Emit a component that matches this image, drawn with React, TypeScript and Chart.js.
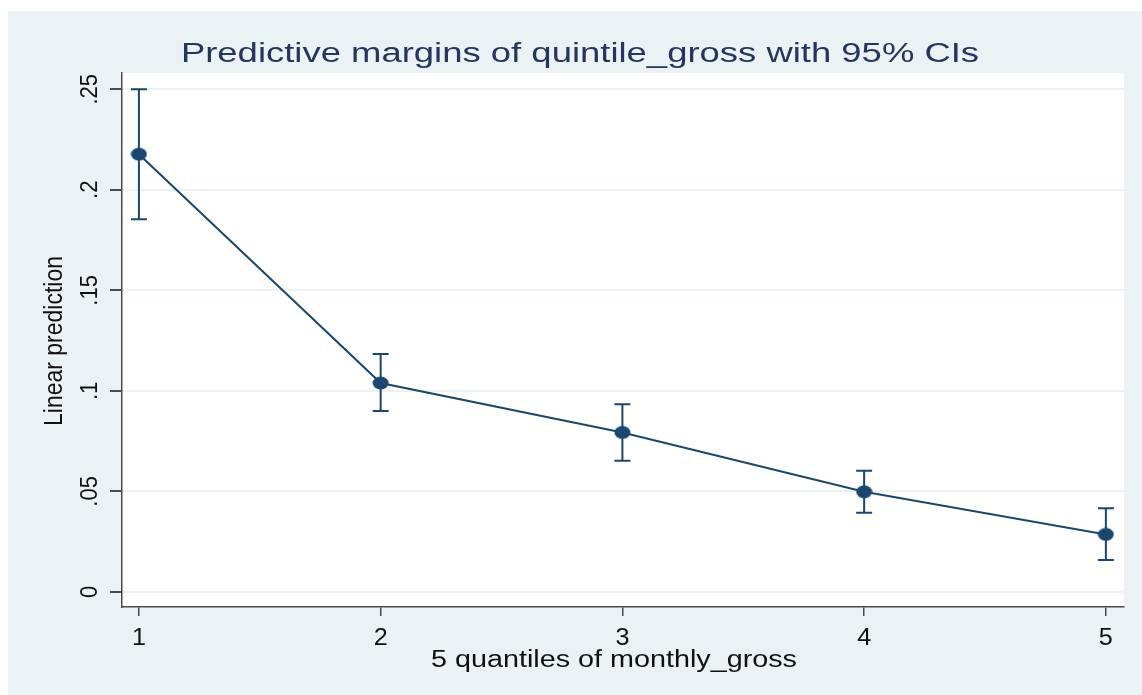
import React, { useEffect, useRef } from "react";
import { Chart, registerables } from "chart.js";

Chart.register(...registerables);

const titleText = "Predictive margins of quintile_gross with 95% CIs";
const xAxisTitle = "5 quantiles of monthly_gross";
const yAxisTitle = "Linear prediction";
const quintiles = [1, 2, 3, 4, 5];
const margins = [0.2177, 0.1039, 0.0793, 0.0498, 0.0286];
const ciLower = [0.1854, 0.09, 0.0653, 0.0394, 0.0159];
const ciUpper = [0.25, 0.1183, 0.0934, 0.0603, 0.0416];
const xTickValues = [1, 2, 3, 4, 5];
const xTickLabels = ["1", "2", "3", "4", "5"];
const yTickValues = [0, 0.05, 0.1, 0.15, 0.2, 0.25];
const yTickLabels = ["0", ".05", ".1", ".15", ".2", ".25"];

const NAVY = "#1a476f";
const BG = "#eaf2f3";
const AXIS = "#4a4a4a";
const FONT = "'Liberation Sans', Arial, sans-serif";

export default function App() {
  const ref = useRef<HTMLCanvasElement | null>(null);

  useEffect(() => {
    const canvas = ref.current;
    if (!canvas) return;

    const marker = document.createElement("canvas");
    marker.width = 17;
    marker.height = 14;
    const mctx = marker.getContext("2d")!;
    mctx.fillStyle = NAVY;
    mctx.beginPath();
    mctx.ellipse(8.5, 7, 8, 6.5, 0, 0, Math.PI * 2);
    mctx.fill();

    const bgPlugin = {
      id: "bgPlugin",
      beforeDraw(chart: any) {
        const { ctx, chartArea, width, height } = chart;
        ctx.save();
        ctx.fillStyle = BG;
        ctx.fillRect(0, 0, width, height);
        ctx.fillStyle = "#ffffff";
        ctx.fillRect(
          chartArea.left,
          chartArea.top,
          chartArea.right - chartArea.left,
          chartArea.bottom - chartArea.top
        );
        ctx.restore();
      },
    };

    const errorBarPlugin = {
      id: "errorBars",
      beforeDatasetsDraw(chart: any) {
        const { ctx, scales } = chart;
        const xs = scales.x;
        const ys = scales.y;
        ctx.save();
        ctx.strokeStyle = NAVY;
        ctx.lineWidth = 2;
        quintiles.forEach((q, i) => {
          const px = xs.getPixelForValue(q);
          const top = ys.getPixelForValue(ciUpper[i]);
          const bot = ys.getPixelForValue(ciLower[i]);
          ctx.beginPath();
          ctx.moveTo(px, top);
          ctx.lineTo(px, bot);
          ctx.moveTo(px - 8, top);
          ctx.lineTo(px + 8, top);
          ctx.moveTo(px - 8, bot);
          ctx.lineTo(px + 8, bot);
          ctx.stroke();
        });
        ctx.restore();
      },
    };

    const textPlugin = {
      id: "texts",
      afterDraw(chart: any) {
        const { ctx, scales } = chart;
        const xs = scales.x;
        const ys = scales.y;
        ctx.save();
        // title
        ctx.fillStyle = "#22365f";
        ctx.font = `27px ${FONT}`;
        ctx.textAlign = "center";
        ctx.textBaseline = "alphabetic";
        ctx.save();
        ctx.translate(572, 51);
        ctx.scale(1.35, 1);
        ctx.fillText(titleText, 0, 0);
        ctx.restore();

        ctx.fillStyle = "#111111";
        // x tick labels
        ctx.font = `24px ${FONT}`;
        xTickValues.forEach((v, i) => {
          const px = xs.getPixelForValue(v);
          ctx.save();
          ctx.translate(px, 634);
          ctx.scale(1.05, 1);
          ctx.fillText(xTickLabels[i], 0, 0);
          ctx.restore();
        });
        // x title
        ctx.font = `23px ${FONT}`;
        ctx.save();
        ctx.translate(606, 656);
        ctx.scale(1.25, 1);
        ctx.fillText(xAxisTitle, 0, 0);
        ctx.restore();
        // y tick labels
        ctx.font = `22px ${FONT}`;
        yTickValues.forEach((v, i) => {
          const py = ys.getPixelForValue(v);
          ctx.save();
          ctx.translate(89, py);
          ctx.scale(1.1, 1);
          ctx.rotate(-Math.PI / 2);
          ctx.fillText(yTickLabels[i], 0, 0);
          ctx.restore();
        });
        // y title
        ctx.font = `23px ${FONT}`;
        ctx.save();
        ctx.translate(54, 330);
        ctx.scale(1.12, 1);
        ctx.rotate(-Math.PI / 2);
        ctx.fillText(yAxisTitle, 0, 0);
        ctx.restore();
        ctx.restore();
      },
    };

    const chart = new Chart(canvas, {
      type: "line",
      data: {
        datasets: [
          {
            data: quintiles.map((q, i) => ({ x: q, y: margins[i] })),
            borderColor: NAVY,
            backgroundColor: NAVY,
            borderWidth: 2,
            pointStyle: marker as any,
            pointRadius: 8,
            tension: 0,
            fill: false,
          },
        ],
      },
      options: {
        responsive: false,
        animation: false,
        events: [],
        layout: { padding: { top: 62, right: 18, left: 0, bottom: 0 } },
        plugins: {
          legend: { display: false },
          title: { display: false },
          tooltip: { enabled: false },
        },
        scales: {
          x: {
            type: "linear",
            min: 0.93,
            max: 5.075,
            afterBuildTicks(scale: any) {
              scale.ticks = xTickValues.map((v) => ({ value: v }));
            },
            afterFit(scale: any) {
              scale.height = 88;
            },
            ticks: { display: false },
            grid: {
              drawOnChartArea: false,
              drawTicks: true,
              tickLength: 9,
              tickColor: AXIS,
              lineWidth: 1.5,
            },
            border: { display: true, color: AXIS, width: 1.5 },
          },
          y: {
            type: "linear",
            min: -0.0075,
            max: 0.2581,
            afterBuildTicks(scale: any) {
              scale.ticks = yTickValues.map((v) => ({ value: v }));
            },
            afterFit(scale: any) {
              scale.width = 114;
            },
            ticks: { display: false },
            grid: {
              drawOnChartArea: true,
              drawTicks: true,
              tickLength: 12,
              color: BG,
              tickColor: AXIS,
              lineWidth: 2,
            },
            border: { display: true, color: AXIS, width: 1.5 },
          },
        },
      },
      plugins: [bgPlugin, errorBarPlugin, textPlugin],
    });

    return () => {
      chart.destroy();
    };
  }, []);

  return (
    <div style={{ position: "absolute", left: 8, top: 11, width: 1134, height: 684 }}>
      <canvas ref={ref} width={1134} height={684} style={{ display: "block", width: 1134, height: 684 }} />
    </div>
  );
}
